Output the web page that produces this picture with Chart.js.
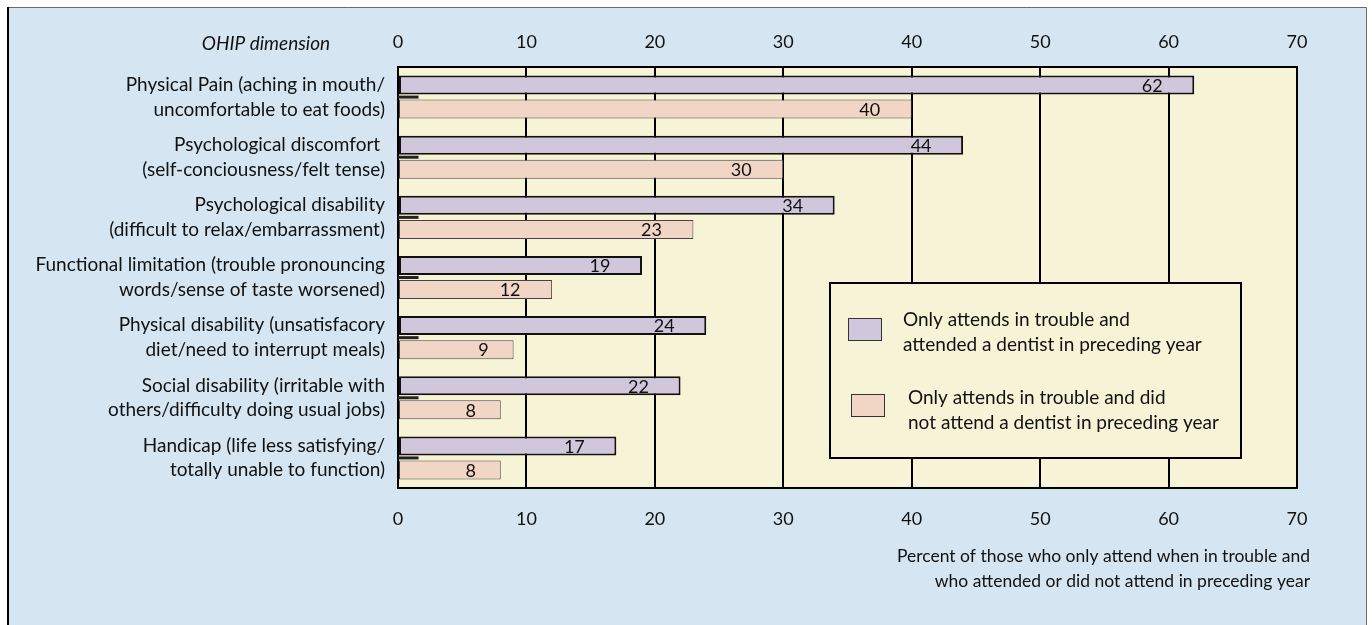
<!DOCTYPE html>
<html>
<head>
<meta charset="utf-8">
<script src="https://cdn.jsdelivr.net/npm/chart.js@4.4.1/dist/chart.umd.min.js"></script>
<style>
  html, body { margin: 0; padding: 0; background: #ffffff; }
  #wrap { position: relative; width: 1372px; height: 625px; }
  canvas { display: block; }
</style>
</head>
<body>
<div id="wrap"><canvas id="c" width="1372" height="625"></canvas></div>
<script>
// OHIP dimensions, each split over two lines
const categories = [
  ['Physical Pain (aching in mouth/', 'uncomfortable to eat foods)'],
  ['Psychological discomfort ', '(self-conciousness/felt tense)'],
  ['Psychological disability', '(difficult to relax/embarrassment)'],
  ['Functional limitation (trouble pronouncing', 'words/sense of taste worsened)'],
  ['Physical disability (unsatisfacory', 'diet/need to interrupt meals)'],
  ['Social disability (irritable with', 'others/difficulty doing usual jobs)'],
  ['Handicap (life less satisfying/', 'totally unable to function)']
];

const attendedValues = [62, 44, 34, 19, 24, 22, 17];
const notAttendedValues = [40, 30, 23, 12, 9, 8, 8];

const attendedLabel = ['Only attends in trouble and', 'attended a dentist in preceding year'];
const notAttendedLabel = ['Only attends in trouble and did', 'not attend a dentist in preceding year'];

const axisTicks = [0, 10, 20, 30, 40, 50, 60, 70];
const axisCaption = ['Percent of those who only attend when in trouble and',
                     'who attended or did not attend in preceding year'];
const dimensionHeader = 'OHIP dimension';

const FONT = 'Lato, "Open Sans", sans-serif';
const INK = '#111111';
const PANEL = '#d5e6f2';
const CREAM = '#f7f3d7';
const PURPLE = '#d1c7dc';
const PEACH = '#f1d5c5';

const backdrop = {
  id: 'backdrop',
  beforeDraw(chart) {
    const { ctx, chartArea: a } = chart;
    ctx.save();
    ctx.fillStyle = '#ffffff';
    ctx.fillRect(0, 0, chart.width, chart.height);
    ctx.fillStyle = PANEL;
    ctx.fillRect(7, 7, 1360, chart.height - 7);
    ctx.strokeStyle = '#6b6b6b';
    ctx.lineWidth = 1;
    ctx.beginPath();
    ctx.moveTo(7.5, chart.height); ctx.lineTo(7.5, 7.5); ctx.lineTo(1366.5, 7.5); ctx.lineTo(1366.5, chart.height);
    ctx.stroke();
    ctx.strokeStyle = '#000';
    ctx.lineWidth = 2;
    ctx.beginPath();
    ctx.moveTo(8, 7); ctx.lineTo(8, chart.height);
    ctx.stroke();
    ctx.fillStyle = CREAM;
    ctx.fillRect(a.left, a.top, a.right - a.left, a.bottom - a.top);
    // header above the category labels
    ctx.fillStyle = INK;
    ctx.font = 'italic 19px ' + FONT;
    ctx.textAlign = 'center';
    ctx.textBaseline = 'middle';
    ctx.fillText(dimensionHeader, 266, 44);
    ctx.restore();
  },
  afterDatasetsDraw(chart) {
    const { ctx } = chart;
    const xs = chart.scales.x, ys = chart.scales.y;
    ctx.save();
    // short dark stubs along the axis between each pair of bars
    ctx.strokeStyle = '#222';
    ctx.lineWidth = 3;
    categories.forEach((_, i) => {
      const y = ys.getPixelForValue(i);
      ctx.beginPath();
      ctx.moveTo(xs.getPixelForValue(0), y);
      ctx.lineTo(xs.getPixelForValue(1.6), y);
      ctx.stroke();
    });
    // value labels inside the bar ends
    ctx.fillStyle = INK;
    ctx.font = '18px ' + FONT;
    ctx.textAlign = 'center';
    ctx.textBaseline = 'middle';
    chart.data.datasets.forEach((ds, di) => {
      chart.getDatasetMeta(di).data.forEach((bar, i) => {
        const txt = String(ds.data[i]);
        ctx.fillText(txt, bar.x - (18 + 12 * txt.length), bar.y + 1);
      });
    });
    // legend box
    ctx.fillStyle = CREAM;
    ctx.fillRect(830, 283, 411, 175);
    ctx.strokeStyle = '#000';
    ctx.lineWidth = 2;
    ctx.strokeRect(830, 283, 411, 175);
    const entries = [
      { box: [848, 318, 34, 23], color: PURPLE, lines: attendedLabel, tx: 903, ty: 320 },
      { box: [851, 394, 34, 23], color: PEACH, lines: notAttendedLabel, tx: 908, ty: 398 }
    ];
    entries.forEach(e => {
      ctx.fillStyle = e.color;
      ctx.fillRect(...e.box);
      ctx.strokeStyle = '#333';
      ctx.lineWidth = 1;
      ctx.strokeRect(e.box[0] + 0.5, e.box[1] + 0.5, e.box[2] - 1, e.box[3] - 1);
      ctx.fillStyle = INK;
      ctx.font = '19px ' + FONT;
      ctx.textAlign = 'left';
      e.lines.forEach((l, k) => ctx.fillText(l, e.tx, e.ty + k * 25));
    });
    // axis caption
    ctx.font = '17.5px ' + FONT;
    ctx.textAlign = 'right';
    axisCaption.forEach((l, k) => ctx.fillText(l, 1310, 556 + k * 25));
    ctx.restore();
  }
};

new Chart(document.getElementById('c'), {
  type: 'bar',
  data: {
    labels: categories,
    datasets: [
      {
        label: attendedLabel.join(' '),
        data: attendedValues,
        backgroundColor: PURPLE,
        borderColor: '#111',
        borderWidth: 2,
        borderSkipped: false,
        categoryPercentage: 0.8,
        barPercentage: 0.79
      },
      {
        label: notAttendedLabel.join(' '),
        data: notAttendedValues,
        backgroundColor: PEACH,
        borderColor: '#444',
        borderWidth: 1,
        borderSkipped: false,
        categoryPercentage: 0.8,
        barPercentage: 0.79
      }
    ]
  },
  options: {
    indexAxis: 'y',
    responsive: false,
    animation: false,
    layout: { padding: { left: 0, top: 0, right: 75, bottom: 0 } },
    plugins: { legend: { display: false }, tooltip: { enabled: false } },
    scales: {
      x: {
        position: 'bottom',
        min: 0, max: 70,
        afterBuildTicks: s => { s.ticks = axisTicks.map(v => ({ value: v })); },
        afterFit: s => { s.height = 137; },
        grid: { color: '#000', lineWidth: 2, drawTicks: false },
        border: { display: true, color: '#000', width: 2 },
        ticks: { padding: 20, color: INK, font: { family: FONT, size: 18 } }
      },
      x2: {
        position: 'top',
        axis: 'x',
        min: 0, max: 70,
        afterBuildTicks: s => { s.ticks = axisTicks.map(v => ({ value: v })); },
        afterFit: s => { s.height = 67; },
        grid: { display: false, drawTicks: false },
        border: { display: true, color: '#000', width: 2 },
        ticks: { padding: 14, color: INK, font: { family: FONT, size: 18 } }
      },
      y: {
        afterFit: s => { s.width = 398; },
        grid: { display: false, drawTicks: false },
        border: { display: true, color: '#000', width: 2 },
        ticks: { padding: 13, color: INK, font: { family: FONT, size: 19, lineHeight: 1.3 } }
      }
    }
  },
  plugins: [backdrop]
});
</script>
</body>
</html>
